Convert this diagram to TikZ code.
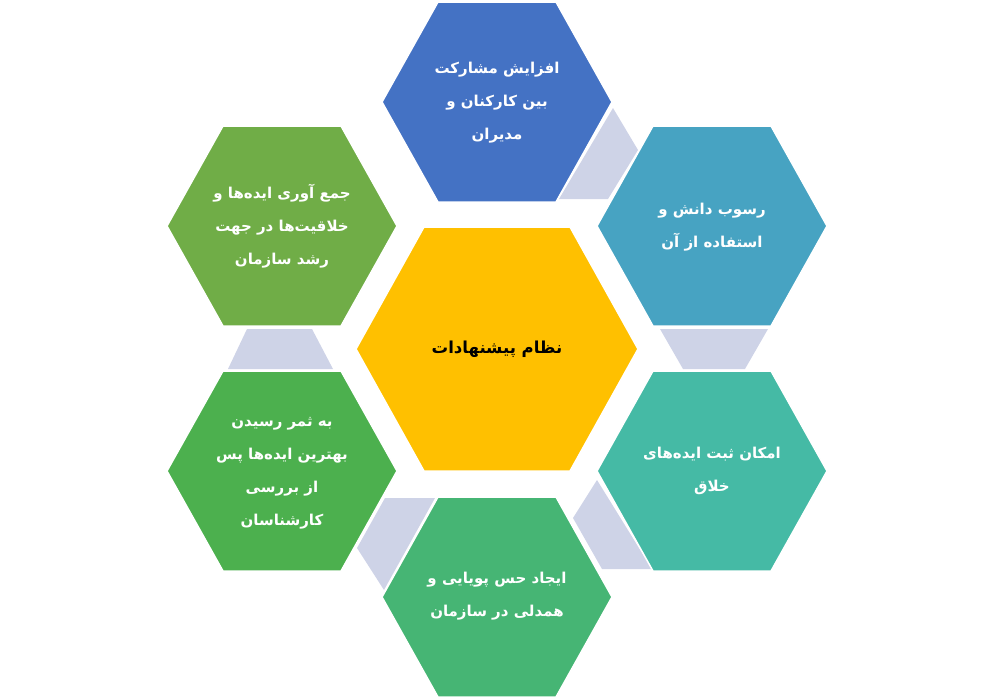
\documentclass[tikz,border=0pt]{standalone}
\usepackage{fontspec}
\setmainfont{DejaVu Sans}
\newfontfamily\arabicfont[Script=Arabic]{DejaVu Sans}
\TeXXeTstate=1
\definecolor{cBlue}{HTML}{4472C4}
\definecolor{cTealBlue}{HTML}{47A3C2}
\definecolor{cTealGreen}{HTML}{45BAA5}
\definecolor{cGreenB}{HTML}{46B574}
\definecolor{cGreenLB}{HTML}{4CB04E}
\definecolor{cGreenLT}{HTML}{70AD47}
\definecolor{cYellow}{HTML}{FFC000}
\definecolor{cGray}{HTML}{CED3E7}
\newcommand\fa[1]{\beginR #1\endR}
\newcommand\outerhex[3]{\path[hexfill=#3,shift={(#1,#2)}] (-115,0) -- (-59,-100) -- (59,-100) -- (115,0) -- (59,100) -- (-59,100) -- cycle;}
\begin{document}
\begin{tikzpicture}[x=1pt,y=-1pt,
  hexfill/.style={fill=#1,draw=white,line width=1.5pt},
  conn/.style={fill=cGray},
  lbl/.style={text=white,font=\arabicfont\bfseries\fontsize{15}{33}\selectfont,align=center,inner sep=0pt},
  mainlbl/.style={text=black,font=\arabicfont\bfseries\fontsize{16.5}{33}\selectfont,align=center,inner sep=0pt},
]
\useasboundingbox (0,0) rectangle (994,699);
% grey connecting pieces
\fill[conn] (613,108) -- (638,150) -- (608,199) -- (559,199) -- cycle;
\fill[conn] (660,329) -- (768,329) -- (745,369) -- (683,369) -- cycle;
\fill[conn] (597,480) -- (652,569) -- (602,569) -- (573,518) -- cycle;
\fill[conn] (385,498) -- (435,498) -- (384,590) -- (357,548) -- cycle;
\fill[conn] (247,329) -- (312,329) -- (333,369) -- (228,369) -- cycle;
% hexagons
\outerhex{497}{102}{cBlue}
\outerhex{712}{226}{cTealBlue}
\outerhex{712}{471}{cTealGreen}
\outerhex{497}{597}{cGreenB}
\outerhex{282}{471}{cGreenLB}
\outerhex{282}{226}{cGreenLT}
\path[hexfill=cYellow] (356,349) -- (424,227) -- (570,227) -- (638,349) -- (570,471) -- (424,471) -- cycle;
% labels
\node[mainlbl] (center) at (497,349) {\fa{نظام پیشنهادات}};
\node[lbl] (top) at (497,103) {\fa{افزایش مشارکت}\\\fa{بین کارکنان و}\\\fa{مدیران}};
\node[lbl] (rt) at (712,227) {\fa{رسوب دانش و}\\\fa{استفاده از آن}};
\node[lbl] (rb) at (712,471) {\fa{امکان ثبت ایده‌های}\\\fa{خلاق}};
\node[lbl] (bot) at (497,596) {\fa{ایجاد حس پویایی و}\\\fa{همدلی در سازمان}};
\node[lbl] (lb) at (282,473) {\fa{به ثمر رسیدن}\\\fa{بهترین ایده‌ها پس}\\\fa{از بررسی}\\\fa{کارشناسان}};
\node[lbl] (lt) at (282,226) {\fa{جمع آوری ایده‌ها و}\\\fa{خلاقیت‌ها در جهت}\\\fa{رشد سازمان}};
\end{tikzpicture}
\end{document}
